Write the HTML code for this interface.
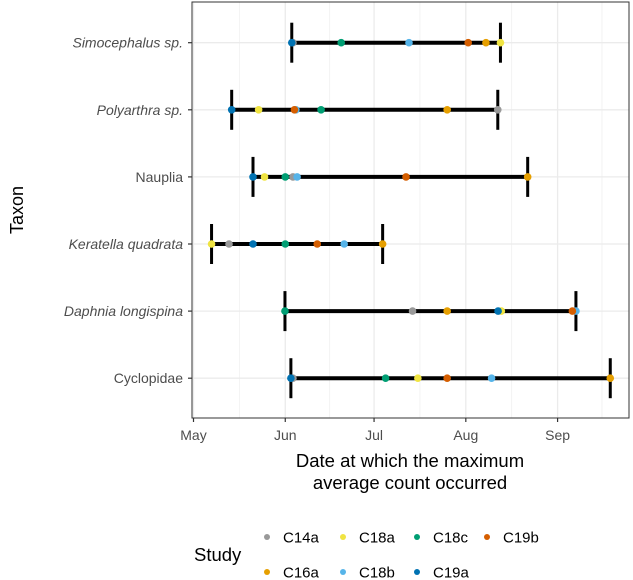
<!DOCTYPE html>
<html><head><meta charset="utf-8">
<style>
body{margin:0;background:#fff;}
svg{display:block;font-family:"Liberation Sans",sans-serif;}
</style></head>
<body>
<svg id="chart" width="633" height="580" viewBox="0 0 633 580"></svg>
<script>
// Data (days since May 1)
const taxa = ["Simocephalus sp.","Polyarthra sp.","Nauplia","Keratella quadrata","Daphnia longispina","Cyclopidae"];
const italicTaxa = [true,true,false,true,true,false];
const studies = ["C14a","C16a","C18a","C18b","C18c","C19a","C19b"];
const studyColors = ["#999999","#E69F00","#F0E442","#56B4E9","#009E73","#0072B2","#D55E00"];
const valsC14a = [33.6,102.8,33.6,12,74,33.6];
const valsC16a = [98.8,85.7,112.9,63.9,85.7,140.8];
const valsC18a = [103.7,22,24,6.1,104,75.8];
const valsC18b = [72.8,34.6,35,50.9,129.2,100.7];
const valsC18c = [49.9,43.1,31,31,30.9,64.9];
const valsC19a = [33.2,12.9,20.1,20.1,102.9,32.9];
const valsC19b = [92.8,34.1,71.8,41.8,128,85.7];
const seriesVals = [valsC14a,valsC16a,valsC18a,valsC18b,valsC18c,valsC19a,valsC19b];
const monthLabels = ["May","Jun","Jul","Aug","Sep"];
const monthDays = [0,31,61,92,123,153];

const NS="http://www.w3.org/2000/svg";
const svg=document.getElementById('chart');
function el(tag,attrs,parent){const e=document.createElementNS(NS,tag);for(const k in attrs)e.setAttribute(k,attrs[k]);(parent||svg).appendChild(e);return e;}
const L=192,R=629,T=2,B=418;
const xS=d=>193.5+d*2.96;
const yS=i=>42.7+i*67.1;

const grid=el('g',{});


for(let i=0;i<monthDays.length-1;i++){
  const mid=(monthDays[i]+monthDays[i+1])/2;
  el('line',{x1:xS(mid),x2:xS(mid),y1:T,y2:B,stroke:'#f0f0f0','stroke-width':0.8},grid);
}
for(let i=0;i<monthLabels.length;i++){
  el('line',{x1:xS(monthDays[i]),x2:xS(monthDays[i]),y1:T,y2:B,stroke:'#ebebeb','stroke-width':1.3},grid);
}
taxa.forEach((t,i)=>el('line',{x1:L,x2:R,y1:yS(i),y2:yS(i),stroke:'#ebebeb','stroke-width':1.3},grid));

// ranges
taxa.forEach((t,i)=>{
  const vs=seriesVals.map(s=>s[i]);
  const mn=Math.min(...vs),mx=Math.max(...vs);
  const g=el('g',{});
  
  
  el('line',{x1:xS(mn),x2:xS(mx),y1:yS(i),y2:yS(i),stroke:'#000','stroke-width':4},g);
  el('line',{x1:xS(mn),x2:xS(mn),y1:yS(i)-20,y2:yS(i)+20,stroke:'#000','stroke-width':3},g);
  el('line',{x1:xS(mx),x2:xS(mx),y1:yS(i)-20,y2:yS(i)+20,stroke:'#000','stroke-width':3},g);
});
// points
studies.forEach((s,si)=>{
  taxa.forEach((t,i)=>{
    const c=el('circle',{cx:xS(seriesVals[si][i]),cy:yS(i),r:3.8,fill:studyColors[si]});
    
    
  });
});
// panel border
el('rect',{x:L,y:T,width:R-L,height:B-T,fill:'none',stroke:'#333','stroke-width':1});

// y axis
taxa.forEach((t,i)=>{
  el('line',{x1:L-4,x2:L,y1:yS(i),y2:yS(i),stroke:'#333','stroke-width':1.2});
  const tx=el('text',{x:L-9,y:yS(i)+5,'text-anchor':'end','font-size':14,fill:'#4d4d4d','font-style':italicTaxa[i]?'italic':'normal'});
  tx.textContent=t;
  
  
});
// x axis
monthLabels.forEach((m,i)=>{
  el('line',{x1:xS(monthDays[i]),x2:xS(monthDays[i]),y1:B,y2:B+4,stroke:'#333','stroke-width':1.2});
  const tx=el('text',{x:xS(monthDays[i]),y:B+22,'text-anchor':'middle','font-size':14,fill:'#4d4d4d'});
  tx.textContent=m;
  
  
});
const yt=el('text',{x:0,y:0,transform:'translate(23,210) rotate(-90)','text-anchor':'middle','font-size':18,fill:'#000'});
yt.textContent='Taxon';


const xt=el('g',{});


const t1=el('text',{x:410,y:467,'text-anchor':'middle','font-size':18.5,fill:'#000'},xt);t1.textContent='Date at which the maximum';
const t2=el('text',{x:410,y:489,'text-anchor':'middle','font-size':18.5,fill:'#000'},xt);t2.textContent='average count occurred';

// legend
const lg=el('g',{});


const lt=el('text',{x:194,y:561,'font-size':18.5,fill:'#000'},lg);lt.textContent='Study';
const legOrder=["C14a","C18a","C18c","C19b","C16a","C18b","C19a"];
const colX=[267,343,417,487];
legOrder.forEach((s,k)=>{
  const row=k<4?0:1,col=k<4?k:k-4;
  const cy=row?572:537;
  const g=el('g',{},lg);
  
  
  el('circle',{cx:colX[col],cy:cy,r:3,fill:studyColors[studies.indexOf(s)]},g);
  const tx=el('text',{x:colX[col]+16,y:cy+5.5,'font-size':15,fill:'#000'},g);tx.textContent=s;
});
</script>
</body></html>
